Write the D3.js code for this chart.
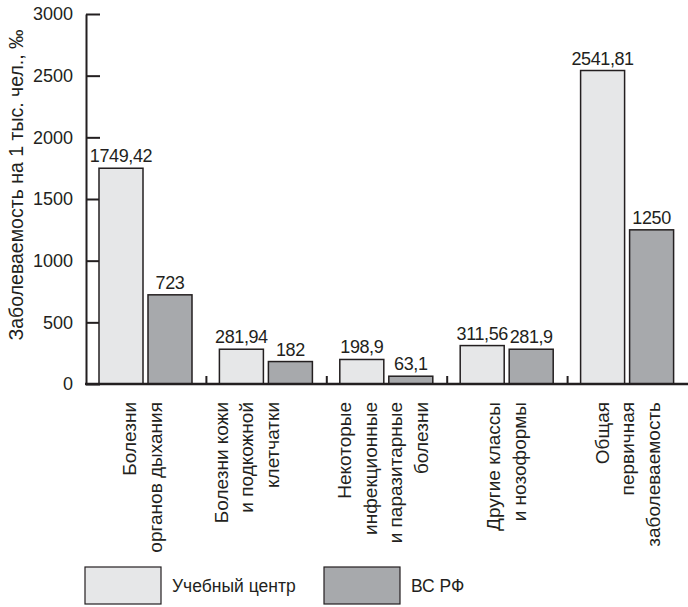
<!DOCTYPE html>
<html>
<head>
<meta charset="utf-8">
<script src="https://cdn.jsdelivr.net/npm/d3@7"></script>
<style>
  body { margin: 0; background: #fff; }
  svg text { font-family: "Liberation Sans", Arial, sans-serif; fill: #231f20; }
</style>
</head>
<body>
<script>
// data
const categories = [
    ["Болезни", "органов дыхания"],
    ["Болезни кожи", "и подкожной", "клетчатки"],
    ["Некоторые", "инфекционные", "и паразитарные", "болезни"],
    ["Другие классы", "и нозоформы"],
    ["Общая", "первичная", "заболеваемость"]
]
const seriesNames = ["Учебный центр", "ВС РФ"]
const trainingCenter = [1749.42, 281.94, 198.9, 311.56, 2541.81]
const armedForces = [723, 182, 63.1, 281.9, 1250]
const yTicks = [0, 500, 1000, 1500, 2000, 2500, 3000]
const yTitle = "Заболеваемость на 1 тыс. чел., ‰"

const colors = ["#e6e7e8", "#a7a9ac"]
const stroke = "#231f20"
const labelShift = [-4, -20, -4, -1, 0]

const width = 688, height = 607
const margin = {top: 14, right: 0, bottom: 223, left: 86}
const y0 = height - margin.bottom

let svg = d3.select("body")
    .append("svg")
    .attr("width", width)
    .attr("height", height)

let keys = categories.map((c, i) => "c" + i)

let x = d3.scaleBand()
    .domain(keys)
    .range([margin.left, width - margin.right])

let xInner = d3.scaleBand()
    .domain(seriesNames)
    .range([13, 106])
    .paddingInner(0.102)

let y = d3.scaleLinear()
    .domain([0, 3000])
    .range([y0, margin.top])

// Y axis, ticks pointing inward
let yAxis = svg.append("g")
    .attr("transform", "translate(" + margin.left + ",0)")
    .call(d3.axisLeft(y).tickValues(yTicks).tickFormat(d3.format("d"))
        .tickSizeInner(-14).tickSizeOuter(0).tickPadding(13))
yAxis.select(".domain").attr("stroke", stroke).attr("stroke-width", 2)
yAxis.selectAll(".tick line").attr("stroke", stroke).attr("stroke-width", 2)
yAxis.selectAll(".tick text")
    .style("font-size", "18px")
    .attr("fill", stroke)

// bars
let rows = categories.map((c, i) => ({key: keys[i], values: [trainingCenter[i], armedForces[i]]}))

let groups = svg.selectAll("g.group")
    .data(rows)
    .enter()
    .append("g")
    .attr("class", "group")
    .attr("transform", d => "translate(" + x(d.key) + ",0)")

let fmt = v => String(v).replace(".", ",")

groups.selectAll("rect")
    .data(d => d.values.map((v, j) => ({name: seriesNames[j], value: v, j: j})))
    .enter()
    .append("rect")
    .attr("x", d => xInner(d.name))
    .attr("y", d => y(d.value))
    .attr("width", xInner.bandwidth())
    .attr("height", d => y0 - y(d.value))
    .attr("fill", d => colors[d.j])
    .attr("stroke", stroke)
    .attr("stroke-width", 1.5)

groups.selectAll("text.value")
    .data(d => d.values.map((v, j) => ({name: seriesNames[j], value: v})))
    .enter()
    .append("text")
    .attr("class", "value")
    .attr("x", d => xInner(d.name) + xInner.bandwidth() / 2)
    .attr("y", d => y(d.value) - 6)
    .attr("text-anchor", "middle")
    .style("font-size", "18px")
    .style("letter-spacing", "-0.4px")
    .text(d => fmt(d.value))

// X axis line and small separators between groups
svg.append("line")
    .attr("x1", margin.left - 1)
    .attr("x2", width)
    .attr("y1", y0)
    .attr("y2", y0)
    .attr("stroke", stroke)
    .attr("stroke-width", 2.5)

svg.selectAll("line.sep")
    .data(keys.slice(1))
    .enter()
    .append("line")
    .attr("class", "sep")
    .attr("x1", d => x(d))
    .attr("x2", d => x(d))
    .attr("y1", y0)
    .attr("y2", y0 - 8)
    .attr("stroke", stroke)
    .attr("stroke-width", 2)

// category labels, rotated
let lineStep = 25.5
categories.forEach((lines, i) => {
    let cx = x(keys[i]) + x.bandwidth() / 2 + labelShift[i]
    lines.forEach((t, k) => {
        let lx = cx + (k - (lines.length - 1) / 2) * lineStep
        svg.append("text")
            .attr("transform", "translate(" + lx + "," + (y0 + 18) + ")rotate(-90)")
            .attr("text-anchor", "end")
            .attr("dy", "0.35em")
            .style("font-size", "19px")
            .text(t)
    })
})

// y title
svg.append("text")
    .attr("transform", "translate(16," + ((y0 + margin.top) / 2 - 14) + ")rotate(-90)")
    .attr("text-anchor", "middle")
    .attr("dy", "0.35em")
    .style("font-size", "19.5px")
    .text(yTitle)

// legend
let legendX = [85, 324]
let legend = svg.selectAll("g.legend")
    .data(seriesNames)
    .enter()
    .append("g")
    .attr("class", "legend")
    .attr("transform", (d, i) => "translate(" + legendX[i] + ",567)")

legend.append("rect")
    .attr("width", 76)
    .attr("height", 37)
    .attr("fill", (d, i) => colors[i])
    .attr("stroke", stroke)
    .attr("stroke-width", 1.2)

legend.append("text")
    .attr("x", 87)
    .attr("y", 19)
    .attr("dy", "0.35em")
    .style("font-size", "17.5px")
    .text(d => d)
</script>
</body>
</html>
